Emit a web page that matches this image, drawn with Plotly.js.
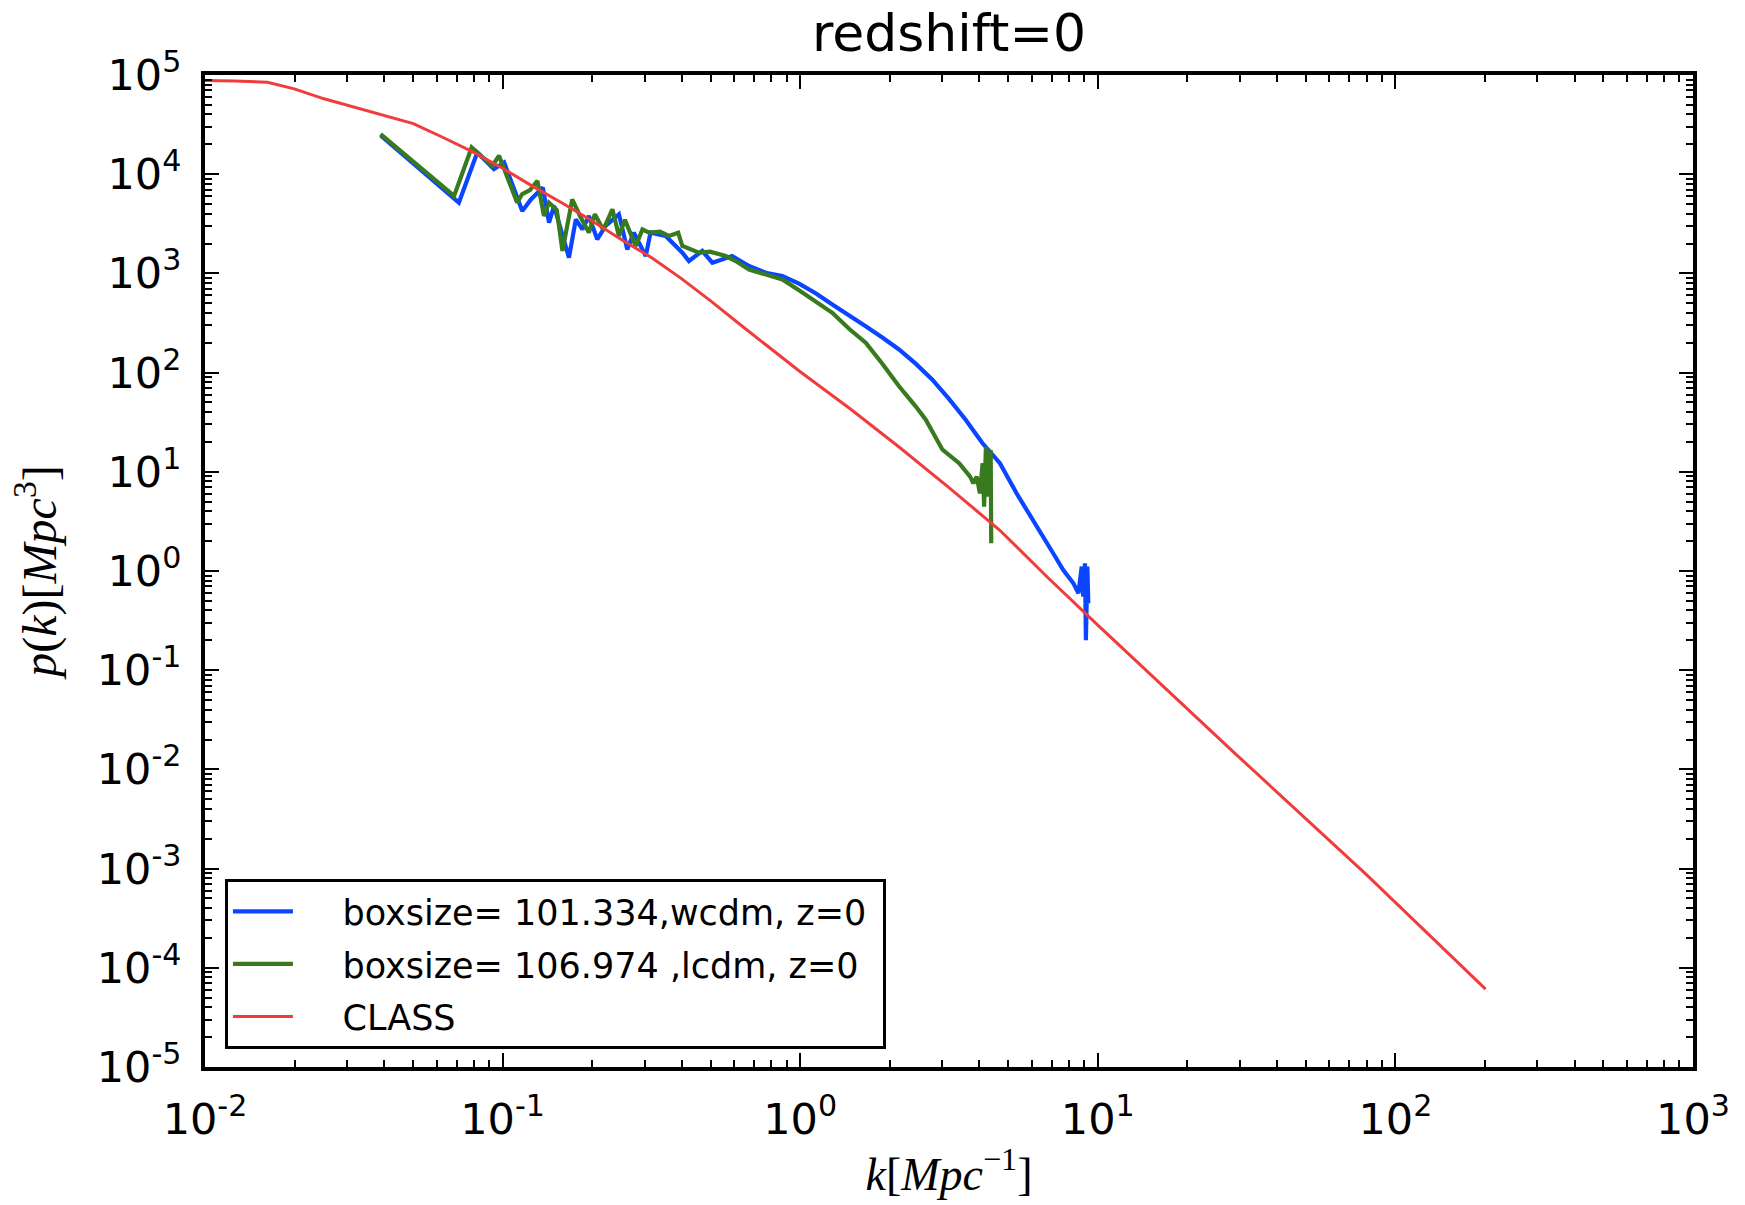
<!DOCTYPE html>
<html>
<head>
<meta charset="utf-8">
<script src="https://cdn.plot.ly/plotly-3.0.1.min.js"></script>
<style>html,body{margin:0;padding:0;background:#fff;}</style>
</head>
<body>
<div id="chart" style="width:1745px;height:1205px;"></div>
<script>
// ---- data (k in Mpc^-1, P in Mpc^3) ----
const wcdm_k = [0.0389,0.0713,0.0822,0.0935,0.1012,0.1164,0.1247,0.1365,0.1432,0.1489,0.1671,0.1762,0.1854,0.1950,0.2080,0.2218,0.2460,0.2624,0.2761,0.3027,0.3141,0.3532,0.4018,0.4227,0.4688,0.5070,0.5902,0.6730,0.7656,0.8710,0.9908,1.127,1.282,1.462,1.660,1.888,2.148,2.443,2.780,3.162,3.597,4.093,4.688,5.334,6.067,7.079,7.656,8.279,8.610,8.831,8.933,9.057,9.120,9.226,9.290];
const wcdm_p = [24550,5176,16558,11246,13122,4266,5598,7345,3251,4786,1442,3508,2780,3793,2203,3006,3945,1746,2576,1496,2576,2382,1618,1334,1683,1282,1496,1186,1016,940,790,631,486,380,294,226,171,123,84.9,54.3,33.5,19.5,12.2,6.07,3.27,1.51,1.02,0.752,0.596,1.107,0.551,1.197,0.201,1.107,0.472];

const lcdm_k = [0.0389,0.0687,0.0787,0.0923,0.0973,0.1119,0.1164,0.1236,0.1309,0.1377,0.1432,0.1521,0.1589,0.1714,0.1820,0.1950,0.2042,0.2178,0.2339,0.2460,0.2576,0.2799,0.2951,0.3105,0.3381,0.3622,0.3890,0.4018,0.4571,0.4977,0.5623,0.6124,0.6730,0.7709,0.8710,0.9908,1.127,1.282,1.462,1.660,1.888,2.148,2.443,2.642,3.006,3.420,3.724,3.819,3.917,4.018,4.102,4.150,4.207,4.285,4.365,4.385];
const lcdm_p = [25351,6039,18621,12162,15346,5176,6310,6918,8551,3793,5176,4365,1683,5585,3793,2576,3945,2754,4426,2382,3467,1888,2780,2576,2630,2382,2570,1888,1618,1656,1496,1312,1096,964,869,676,525,401,275,200,123,72.8,45.7,33.5,16.7,12.2,8.93,7.66,8.93,6.07,12.19,4.45,17.9,5.61,16.6,1.90];

const class_k = [0.01,0.01259,0.01622,0.01995,0.02512,0.03311,0.03981,0.05012,0.0631,0.07943,0.1,0.1259,0.1585,0.1995,0.2512,0.3162,0.3981,0.5012,0.631,0.7943,1.0,1.479,2.138,3.162,4.677,6.761,10.0,28.18,79.43,200.9];
const class_p = [88105,87096,84333,72444,57544,45709,38905,32359,23442,16788,11482,7586,5129,3388,2188,1445,891,525,302,176,102,42.7,18.0,6.92,2.59,0.871,0.285,0.01556,8.83e-4,6.10e-5];

const seriesNames = ['boxsize= 101.334,wcdm, z=0', 'boxsize= 106.974 ,lcdm, z=0', 'CLASS'];

const xTickVals = [1e-2,1e-1,1e0,1e1,1e2,1e3];
const xTickText = ['10<sup>-2</sup>','10<sup>-1</sup>','10<sup>0</sup>','10<sup>1</sup>','10<sup>2</sup>','10<sup>3</sup>'];
const yTickVals = [1e-5,1e-4,1e-3,1e-2,1e-1,1e0,1e1,1e2,1e3,1e4,1e5];
const yTickText = ['10<sup>-5</sup>','10<sup>-4</sup>','10<sup>-3</sup>','10<sup>-2</sup>','10<sup>-1</sup>','10<sup>0</sup>','10<sup>1</sup>','10<sup>2</sup>','10<sup>3</sup>','10<sup>4</sup>','10<sup>5</sup>'];

function minorTicks(lo, hi) {
  const out = [];
  for (let e = lo; e < hi; e++) for (let d = 2; d <= 9; d++) out.push(d * Math.pow(10, e));
  return out;
}

// gap between the legend line sample and its text, and a little right padding
const GAP = '\u00a0\u00a0\u00a0\u00a0';
const TAIL = '\u00a0';

const traces = [
  {x: wcdm_k, y: wcdm_p, name: GAP + seriesNames[0] + TAIL, legendgroup: 'a', mode: 'lines', line: {color: '#0a46ff', width: 4.2}},
  {x: lcdm_k, y: lcdm_p, name: GAP + seriesNames[1] + TAIL, legendgroup: 'b', mode: 'lines', line: {color: '#387a1e', width: 4.2}},
  {x: class_k, y: class_p, name: GAP + seriesNames[2], legendgroup: 'c', mode: 'lines', line: {color: '#f03c3c', width: 3}}
];

const tickFont = {family: 'DejaVu Sans', size: 43, color: '#000'};
const axisCommon = {
  type: 'log', tickmode: 'array', ticks: 'inside', ticklen: 14, tickwidth: 2, tickcolor: '#000',
  showline: true, linewidth: 4, linecolor: '#000', mirror: 'ticks', showgrid: false, zeroline: false,
  tickfont: tickFont
};

const layout = {
  width: 1745, height: 1205,
  margin: {l: 205, r: 52, t: 75, b: 138, pad: 0},
  paper_bgcolor: '#fff', plot_bgcolor: '#fff',
  showlegend: true,
  title: {text: 'redshift=0', font: {family: 'DejaVu Sans', size: 52, color: '#000'},
          x: 0.5, xref: 'paper', xanchor: 'center', y: 0.973, yref: 'container', yanchor: 'middle'},
  xaxis: Object.assign({}, axisCommon, {
    range: [-2, 3], tickvals: xTickVals, ticktext: xTickText, ticklabelstandoff: 11,
    minor: {tickmode: 'array', tickvals: minorTicks(-2, 3), ticks: 'inside', ticklen: 7, tickwidth: 2, tickcolor: '#000', showgrid: false},
    title: {text: '<i>k</i>[<i>Mpc</i><sup>−1</sup>]', font: {family: 'Liberation Serif', size: 46, color: '#000'}, standoff: 16}
  }),
  yaxis: Object.assign({}, axisCommon, {
    range: [-5, 5], tickvals: yTickVals, ticktext: yTickText, ticklabelstandoff: 11,
    minor: {tickmode: 'array', tickvals: minorTicks(-5, 5), ticks: 'inside', ticklen: 7, tickwidth: 2, tickcolor: '#000', showgrid: false},
    title: {text: '<i>p</i>(<i>k</i>)[<i>Mpc</i><sup>3</sup>]', font: {family: 'Liberation Serif', size: 48, color: '#000'}, standoff: 26}
  }),
  legend: {x: 0.0134, y: 0.018, xanchor: 'left', yanchor: 'bottom', bgcolor: '#fff', bordercolor: '#000', borderwidth: 3,
           font: {family: 'DejaVu Sans', size: 35, color: '#000'}, itemwidth: 60, traceorder: 'grouped', tracegroupgap: 4}
};

Plotly.newPlot('chart', traces, layout, {displayModeBar: false, staticPlot: true});
</script>
</body>
</html>
